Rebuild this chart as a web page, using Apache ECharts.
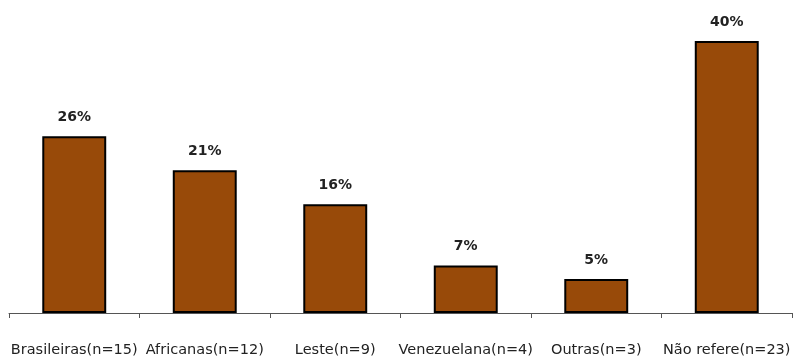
<!DOCTYPE html>
<html><head><meta charset="utf-8">
<script src="https://cdn.jsdelivr.net/npm/echarts@6/dist/echarts.min.js"></script>
<style>html,body{margin:0;padding:0;background:#fff}#c{width:796px;height:358px}</style>
</head><body><div id="c"></div>
<script>
const categories = ["Brasileiras(n=15)", "Africanas(n=12)", "Leste(n=9)", "Venezuelana(n=4)", "Outras(n=3)", "Não refere(n=23)"];
const values = [26, 21, 16, 7, 5, 40];

const chart = echarts.init(document.getElementById('c'));
chart.setOption({
  animation: false,
  grid: {left: 9, right: 4, top: 41, bottom: 45},
  xAxis: {
    type: 'category', data: categories,
    axisLine: {lineStyle: {color: '#555', width: 1}},
    axisTick: {show: true, length: 5, lineStyle: {color: '#555'}},
    axisLabel: {interval: 0, margin: 30, color: '#222', fontSize: 14.5, fontFamily: 'DejaVu Sans'}
  },
  yAxis: {type: 'value', min: 0, max: 40, show: false, splitLine: {show: false}},
  series: [{
    type: 'bar', data: values, barWidth: '49%',
    itemStyle: {color: '#984A09', borderColor: '#000', borderWidth: 2},
    label: {show: true, position: 'top', distance: 12, formatter: '{c}%', color: '#222', fontWeight: 'bold', fontSize: 14, fontFamily: 'DejaVu Sans'}
  }]
});
</script></body></html>
